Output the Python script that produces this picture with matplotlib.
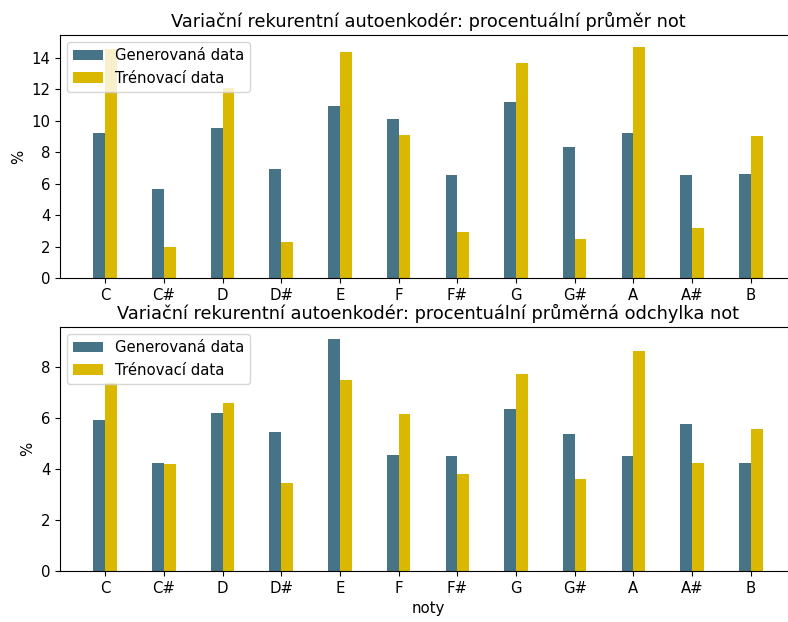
import matplotlib
matplotlib.use("Agg")
import matplotlib.pyplot as plt
import numpy as np

# Noty a hodnoty pro oba grafy
noty = ["C", "C#", "D", "D#", "E", "F", "F#", "G", "G#", "A", "A#", "B"]

prumer_gen = [9.2, 5.65, 9.55, 6.92, 10.96, 10.09, 6.54, 11.17, 8.36, 9.2, 6.54, 6.6]
prumer_tren = [14.57, 1.97, 12.1, 2.28, 14.38, 9.07, 2.92, 13.7, 2.49, 14.72, 3.17, 9.01]

odchylka_gen = [5.95, 4.24, 6.22, 5.48, 9.13, 4.54, 4.5, 6.35, 5.4, 4.5, 5.78, 4.24]
odchylka_tren = [7.37, 4.2, 6.6, 3.45, 7.52, 6.16, 3.83, 7.73, 3.61, 8.63, 4.24, 5.57]

barva_gen = "#477387"
barva_tren = "#dbb800"

plt.rcParams["font.size"] = 10.7
plt.rcParams["axes.titlesize"] = 12.8

fig = plt.figure(figsize=(7.88, 6.22), dpi=100)
ax1 = fig.add_axes([0.0761, 0.553, 0.934, 0.3907])
ax2 = fig.add_axes([0.0761, 0.082, 0.934, 0.3923])

x = np.arange(len(noty))
sirka = 0.2


def vykresli(ax, gen, tren, titulek):
    ax.bar(x - sirka / 2, gen, sirka, color=barva_gen, label="Generovaná data")
    ax.bar(x + sirka / 2, tren, sirka, color=barva_tren, label="Trénovací data")
    ax.set_xticks(x)
    ax.set_xticklabels(noty)
    ax.set_ylabel("%")
    ax.set_title(titulek)
    ax.legend(loc="upper left")


vykresli(ax1, prumer_gen, prumer_tren,
         "Variační rekurentní autoenkodér: procentuální průměr not")
vykresli(ax2, odchylka_gen, odchylka_tren,
         "Variační rekurentní autoenkodér: procentuální průměrná odchylka not")
ax2.set_xlabel("noty")

fig.savefig("out.png", dpi=100)
